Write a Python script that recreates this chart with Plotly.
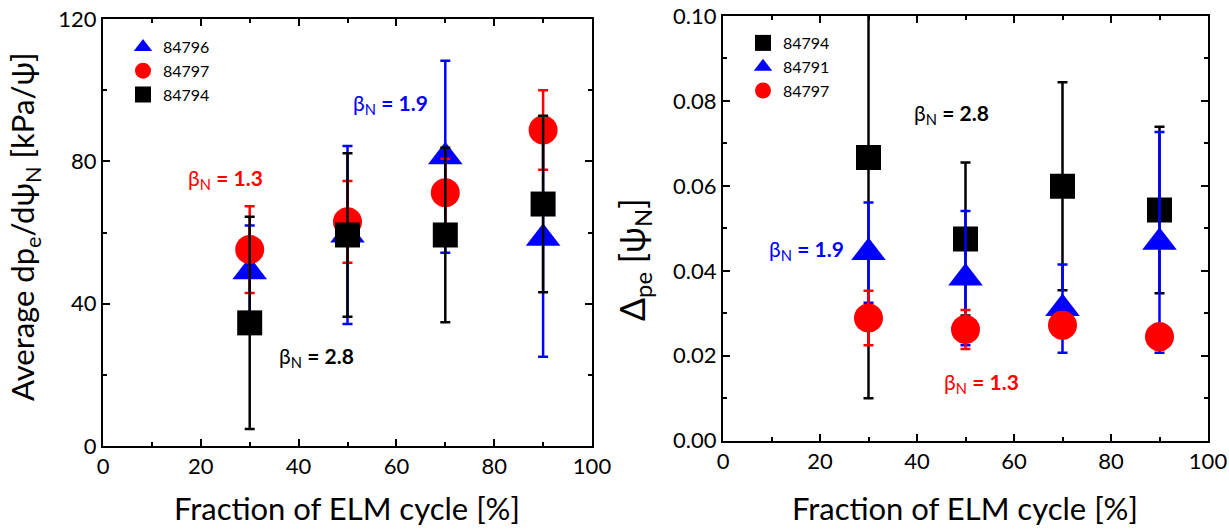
import plotly.graph_objects as go

# ---- data: pedestal gradient (left panel) ----
frac = [30, 50, 70, 90]

grad_84796 = [49.0, 59.3, 81.3, 58.4]
grad_84796_err = [13.0, 25.0, 27.0, 33.3]
grad_84797 = [55.2, 63.0, 71.2, 88.8]
grad_84797_err = [12.2, 11.5, 9.5, 11.2]
grad_84794 = [34.6, 59.3, 59.3, 68.0]
grad_84794_err = [29.8, 23.0, 24.5, 24.8]

# ---- data: pedestal width (right panel) ----
width_84794 = [0.0667, 0.0475, 0.0599, 0.0543]
width_84794_err = [0.0567, 0.018, 0.0245, 0.0196]
width_84791 = [0.0443, 0.0383, 0.0311, 0.0467]
width_84791_err = [0.0118, 0.0158, 0.0104, 0.026]
width_84797 = [0.0289, 0.0262, 0.0272, 0.0245]
width_84797_err = [0.0064, 0.0046, 0.003, 0.003]

BLUE = "#0000ff"
RED = "#ff0000"
BLACK = "#000000"
FONT = "Lato"

fig = go.Figure()


def add_series(x, y, err, name, color, symbol, size, xa, ya, legend):
    fig.add_trace(go.Scatter(
        x=x, y=y, mode="markers", name=name,
        xaxis=xa, yaxis=ya, legend=legend, cliponaxis=True,
        marker=dict(symbol=symbol, size=size, color=color, line=dict(width=0)),
        error_y=dict(type="data", array=err, visible=True, color=color,
                     thickness=2.5, width=5),
    ))


# left panel: drawn blue, red, black
add_series(frac, grad_84796, grad_84796_err, "84796", BLUE, "triangle-up", 30, "x", "y", "legend")
add_series(frac, grad_84797, grad_84797_err, "84797", RED, "circle", 29, "x", "y", "legend")
add_series(frac, grad_84794, grad_84794_err, "84794", BLACK, "square", 25, "x", "y", "legend")

# right panel: drawn black, blue, red
add_series(frac, width_84794, width_84794_err, "84794", BLACK, "square", 25, "x2", "y2", "legend2")
add_series(frac, width_84791, width_84791_err, "84791", BLUE, "triangle-up", 30, "x2", "y2", "legend2")
add_series(frac, width_84797, width_84797_err, "84797", RED, "circle", 29, "x2", "y2", "legend2")

axis_common = dict(
    showline=True, linecolor="black", linewidth=2, mirror="ticks",
    ticks="inside", ticklen=7, tickwidth=1.5, tickcolor="black",
    showgrid=False, zeroline=False, automargin=False,
    tickfont=dict(family=FONT, size=22, color="black"),
)
minor_ticks = dict(ticks="inside", ticklen=4, tickwidth=1.5, tickcolor="black")

W, H = 1229, 529
fig.update_layout(
    width=W, height=H,
    margin=dict(l=0, r=0, t=0, b=0, autoexpand=False),
    paper_bgcolor="white", plot_bgcolor="white",
    font=dict(family=FONT, color="black"),
    xaxis=dict(domain=[103 / W, 592 / W], range=[0, 100], dtick=20,
               minor=dict(dtick=10, **minor_ticks), anchor="y", **axis_common),
    yaxis=dict(domain=[1 - 446 / H, 1 - 19 / H], range=[0, 120], dtick=40,
               minor=dict(dtick=20, **minor_ticks), anchor="x", **axis_common),
    xaxis2=dict(domain=[723 / W, 1208 / W], range=[0, 100], dtick=20,
                minor=dict(dtick=10, **minor_ticks), anchor="y2", **axis_common),
    yaxis2=dict(domain=[1 - 440.7 / H, 1 - 16 / H], range=[0, 0.10], dtick=0.02,
                tickformat=".2f", minor=dict(dtick=0.01, **minor_ticks),
                anchor="x2", **axis_common),
    legend=dict(x=123 / W, y=1 - 30 / H, xanchor="left", yanchor="top",
                bgcolor="rgba(0,0,0,0)", font=dict(family=FONT, size=16),
                itemsizing="trace"),
    legend2=dict(x=743 / W, y=1 - 26 / H, xanchor="left", yanchor="top",
                 bgcolor="rgba(0,0,0,0)", font=dict(family=FONT, size=16),
                 itemsizing="trace"),
    showlegend=True,
)


def beta_label(val, color, x, y, xref, yref):
    fig.add_annotation(
        x=x, y=y, xref=xref, yref=yref, showarrow=False,
        text=f"β<sub>N</sub> <b>= {val}</b>",
        font=dict(family=FONT, size=21, color=color),
        xanchor="center", yanchor="middle",
    )


beta_label("1.3", RED, 25, 75, "x", "y")
beta_label("1.9", BLUE, 58.7, 96, "x", "y")
beta_label("2.8", BLACK, 43.7, 25, "x", "y")
beta_label("2.8", BLACK, 47.1, 0.077, "x2", "y2")
beta_label("1.9", BLUE, 17.3, 0.045, "x2", "y2")
beta_label("1.3", RED, 53.4, 0.0135, "x2", "y2")

# axis titles
title_font = dict(family=FONT, size=31, color="black")
fig.add_annotation(x=347 / W, y=1 - 508 / H, xref="paper", yref="paper",
                   text="Fraction of ELM cycle [%]", showarrow=False,
                   font=title_font, xanchor="center", yanchor="middle")
fig.add_annotation(x=965 / W, y=1 - 508 / H, xref="paper", yref="paper",
                   text="Fraction of ELM cycle [%]", showarrow=False,
                   font=title_font, xanchor="center", yanchor="middle")
fig.add_annotation(x=24 / W, y=1 - 227 / H, xref="paper", yref="paper",
                   text="Average dp<sub>e</sub>/dψ<sub>N</sub> [kPa/ψ]", textangle=-90,
                   showarrow=False, font=title_font, xanchor="center", yanchor="middle")
fig.add_annotation(x=634 / W, y=1 - 260 / H, xref="paper", yref="paper",
                   text="Δ<sub>pe</sub> [ψ<sub>N</sub>]", textangle=-90,
                   showarrow=False, font=dict(family=FONT, size=34, color="black"),
                   xanchor="center", yanchor="middle")

fig.write_html("out.html")
